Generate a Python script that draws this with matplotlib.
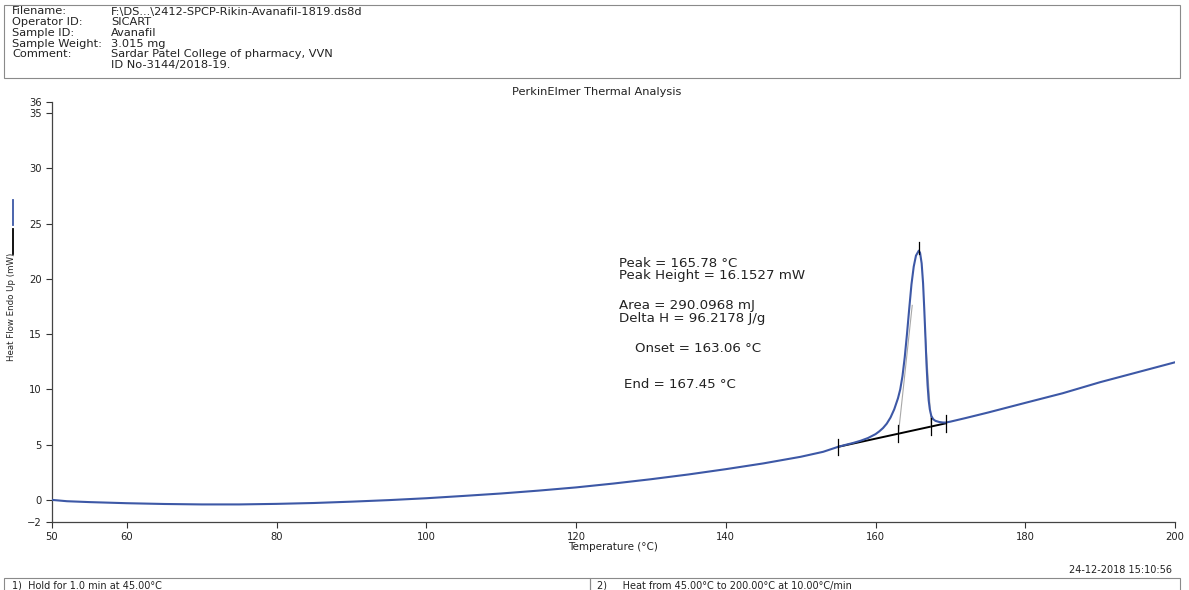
import matplotlib
matplotlib.use("Agg")
import matplotlib.pyplot as plt
from matplotlib.lines import Line2D
from matplotlib.patches import Rectangle

plt.rcParams["font.family"] = ["DejaVu Sans"]

# ---- run header ----
header_keys = ["Filename:", "Operator ID:", "Sample ID:", "Sample Weight:", "Comment:", ""]
header_vals = ["F:\\DS...\\2412-SPCP-Rikin-Avanafil-1819.ds8d", "SICART", "Avanafil",
               "3.015 mg", "Sardar Patel College of pharmacy, VVN", "ID No-3144/2018-19."]

# ---- DSC trace: temperature (°C) / heat flow endo up (mW) ----
temp = [50, 52, 55, 60, 65, 70, 75, 80, 85, 90, 95, 100, 105, 110, 115, 120, 125,
        130, 135, 140, 145, 150, 153, 155, 156, 157, 158, 159, 160, 160.5, 161,
        161.5, 162, 162.5, 163, 163.3, 163.6, 163.9, 164.2, 164.5, 164.8, 165.1,
        165.4, 165.78, 165.95, 166.16, 166.35, 166.5, 166.65, 166.8, 166.95, 167.1,
        167.25, 167.45, 167.7, 168, 168.5, 169, 169.4, 170, 172, 175, 180, 185, 190,
        195, 200]
heat_flow = [0.0, -0.12, -0.2, -0.3, -0.37, -0.41, -0.41, -0.36, -0.28, -0.16, -0.02,
             0.15, 0.36, 0.58, 0.84, 1.13, 1.48, 1.87, 2.3, 2.78, 3.3, 3.9, 4.35, 4.8,
             4.98, 5.15, 5.35, 5.6, 5.95, 6.2, 6.5, 6.9, 7.45, 8.2, 9.2, 10.0, 11.2,
             12.9, 15.0, 17.3, 19.5, 21.1, 22.1, 22.55, 22.35, 21.4, 19.6, 17.4, 15.0,
             12.4, 10.4, 9.0, 8.2, 7.6, 7.3, 7.15, 7.05, 7.0, 7.0, 7.08, 7.4, 7.9,
             8.78, 9.65, 10.65, 11.55, 12.45]

# ---- peak analysis results ----
peak_t, peak_h = 165.78, 16.1527
onset_t, end_t = 163.06, 167.45
base_t = [155, 169.4]
base_y = [4.8, 6.93]
area_mj, delta_h = 290.0968, 96.2178

x_ticks = [50, 60, 80, 100, 120, 140, 160, 180, 200]
y_ticks = [-2, 0, 5, 10, 15, 20, 25, 30, 35, 36]

W, H = 1189, 590
TXT = "#222222"
fig = plt.figure(figsize=(W / 100, H / 100), dpi=100)


def fx(px):
    return px / W


def fy(py):
    return 1 - py / H


def baseline(t):
    return base_y[0] + (t - base_t[0]) * (base_y[1] - base_y[0]) / (base_t[1] - base_t[0])


# header box
fig.patches.append(Rectangle((fx(4), fy(78)), fx(1176), 73 / H, transform=fig.transFigure,
                             fill=False, edgecolor="#8a8a8a", linewidth=0.8))
for i, (k, v) in enumerate(zip(header_keys, header_vals)):
    yy = fy(11.5 + i * 10.7)
    fig.text(fx(12), yy, k, fontsize=8.2, va="center", color=TXT)
    fig.text(fx(111), yy, v, fontsize=8.2, va="center", color=TXT)

fig.text(fx(597), fy(92), "PerkinElmer Thermal Analysis", fontsize=8.2,
         ha="center", va="center", color=TXT)

ax = fig.add_axes([fx(52), fy(522), fx(1175 - 52), (522 - 102) / H])
ax.plot(temp, heat_flow, color="#3d58a6", linewidth=1.5, zorder=3)

# integration baseline and markers
ax.plot(base_t, base_y, color="black", linewidth=1.4, zorder=2)
tick_half = 0.75
for t in [base_t[0], onset_t, end_t, base_t[1]]:
    yb = baseline(t)
    ax.plot([t, t], [yb - tick_half, yb + tick_half], color="black", linewidth=0.9, zorder=4)
peak_y = baseline(peak_t) + peak_h
ax.plot([peak_t, peak_t], [peak_y - 0.3, peak_y + 0.75], color="black", linewidth=0.9, zorder=4)

# onset / end tangents
ax.plot([onset_t, 164.9], [baseline(onset_t), 17.6], color="#a8a8a8", linewidth=0.8, zorder=2)
ax.plot([end_t, 166.55], [baseline(end_t), 16.0], color="#a8a8a8", linewidth=0.8, zorder=2)

ax.set_xlim(50, 200)
ax.set_ylim(-2, 36)
ax.set_xticks(x_ticks)
ax.set_yticks(y_ticks)
ax.tick_params(direction="out", length=4, width=0.8, labelsize=7.2, colors="#333333",
               labelcolor=TXT)
for side in ["top", "right"]:
    ax.spines[side].set_visible(False)
for side in ["left", "bottom"]:
    ax.spines[side].set_color("#444444")
    ax.spines[side].set_linewidth(0.9)
ax.set_xlabel("Temperature (°C)", fontsize=7.5, labelpad=0, color=TXT)

ann = dict(fontsize=9.6, color=TXT, va="center")
ax.text(125.8, 21.4, f"Peak = {peak_t:.2f} °C", **ann)
ax.text(125.8, 20.3, f"Peak Height = {peak_h:.4f} mW", **ann)
ax.text(125.8, 17.55, f"Area = {area_mj:.4f} mJ", **ann)
ax.text(125.8, 16.4, f"Delta H = {delta_h:.4f} J/g", **ann)
ax.text(127.9, 13.7, f"Onset = {onset_t:.2f} °C", **ann)
ax.text(126.45, 10.4, f"End = {end_t:.2f} °C", **ann)

# y label with trace keys
fig.text(fx(12), fy(307), "Heat Flow Endo Up (mW)", rotation=90, fontsize=6.2,
         ha="center", va="center", color=TXT)
fig.lines.append(Line2D([fx(13), fx(13)], [fy(200), fy(225)], transform=fig.transFigure,
                        color="#3d58a6", linewidth=1.3))
fig.lines.append(Line2D([fx(13), fx(13)], [fy(229), fy(254)], transform=fig.transFigure,
                        color="black", linewidth=1.3))

fig.text(fx(1172), fy(570), "24-12-2018 15:10:56", fontsize=7, ha="right",
         va="center", color=TXT)

# method steps
fig.patches.append(Rectangle((fx(4), fy(600)), fx(586), 22 / H, transform=fig.transFigure,
                             fill=False, edgecolor="#8a8a8a", linewidth=0.8))
fig.patches.append(Rectangle((fx(590), fy(600)), fx(590), 22 / H, transform=fig.transFigure,
                             fill=False, edgecolor="#8a8a8a", linewidth=0.8))
fig.text(fx(12), fy(585), "1)  Hold for 1.0 min at 45.00°C", fontsize=7, va="center",
         color=TXT)
fig.text(fx(597), fy(585), "2)     Heat from 45.00°C to 200.00°C at 10.00°C/min",
         fontsize=7, va="center", color=TXT)

fig.savefig("out.png", dpi=100)
